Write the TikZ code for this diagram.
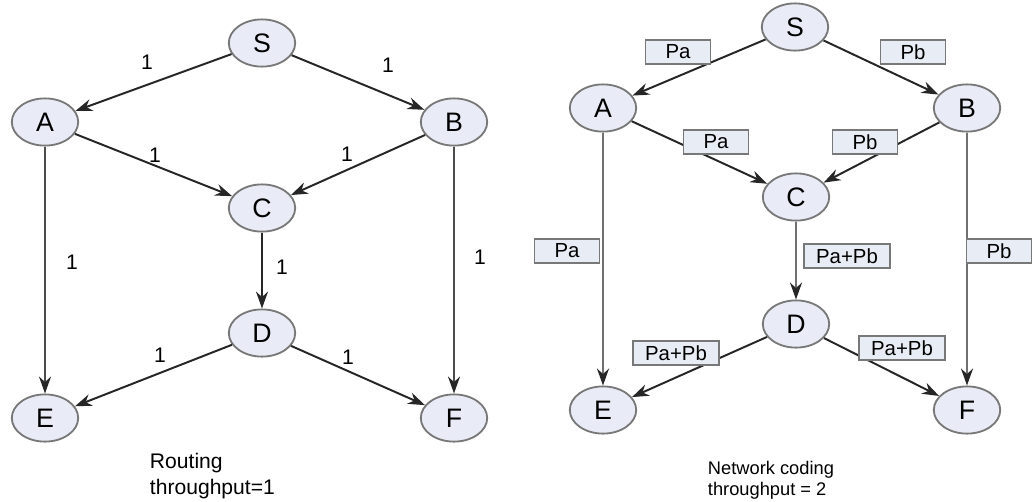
\documentclass[tikz,border=0pt]{standalone}
\usepackage{fontspec}
\setmainfont{Liberation Sans}
\usetikzlibrary{shapes,arrows.meta,positioning}
\definecolor{vertexfill}{RGB}{233,236,246}
\definecolor{vertexline}{RGB}{120,120,120}
\definecolor{boxfill}{RGB}{232,236,244}
\definecolor{edgegray}{RGB}{112,112,112}

\begin{document}
\begin{tikzpicture}[x=0.025cm, y=-0.025cm,
    vertex/.style={ellipse, draw=vertexline, fill=vertexfill, line width=1.3pt, minimum width=1.66cm, minimum height=1.18cm, inner sep=0pt, font=\fontsize{19pt}{22pt}\selectfont},
    flow/.style={-{Stealth[length=12pt,width=8.5pt,color=black!85]}, draw=black!85, line width=1.4pt},
    vflow/.style={flow, draw=black!70, line width=1.6pt},
    gflow/.style={flow, draw=edgegray, line width=2pt},
    rate/.style={font=\fontsize{15pt}{17pt}\selectfont},
    packet/.style={rectangle, draw=vertexline, fill=boxfill, line width=1.1pt, minimum width=1.62cm, minimum height=0.6cm, inner sep=2pt, font=\fontsize{14.5pt}{16pt}\selectfont},
    mixed/.style={packet, minimum width=2.15cm}]

    \useasboundingbox (0,0) rectangle (1032,501);

    % routing
    \node[vertex] (rs) at (262,43) {S};
    \node[vertex] (ra) at (45,122) {A};
    \node[vertex] (rb) at (454,122) {B};
    \node[vertex] (rc) at (262,208) {C};
    \node[vertex] (rd) at (262,333) {D};
    \node[vertex] (re) at (45,418) {E};
    \node[vertex] (rf) at (454,418) {F};

    \draw[flow] (rs) -- (ra);
    \draw[flow] (rs) -- (rb);
    \draw[flow] (ra) -- (rc);
    \draw[flow] (rb) -- (rc);
    \draw[flow] (rc) -- (rd);
    \draw[flow] (rd) -- (re);
    \draw[flow] (rd) -- (rf);
    \draw[vflow] (ra) -- (re);
    \draw[vflow] (rb) -- (rf);

    \node[rate] (rsa) at (147,62) {1};
    \node[rate] (rsb) at (388,65) {1};
    \node[rate] (rac) at (155,155) {1};
    \node[rate] (rbc) at (347,154) {1};
    \node[rate] (rae) at (72,262) {1};
    \node[rate] (rcd) at (282,267) {1};
    \node[rate] (rbf) at (480,257) {1};
    \node[rate] (rde) at (160,355) {1};
    \node[rate] (rdf) at (348,357) {1};

    \node[anchor=west, align=left, font=\fontsize{15pt}{18pt}\selectfont] (rcap) at (145,476) {Routing\\throughput=1};

    % network coding
    \node[vertex] (ns) at (795,27) {S};
    \node[vertex] (na) at (603,108) {A};
    \node[vertex] (nb) at (967,108) {B};
    \node[vertex] (nc) at (796,197) {C};
    \node[vertex] (nd) at (796,324) {D};
    \node[vertex] (ne) at (603,410) {E};
    \node[vertex] (nf) at (967,410) {F};

    \draw[flow] (ns) -- (na);
    \draw[flow] (ns) -- (nb);
    \draw[flow] (na) -- (nc);
    \draw[flow] (nb) -- (nc);
    \draw[gflow] (nc) -- (nd);
    \draw[flow] (nd) -- (ne);
    \draw[flow] (nd) -- (nf);
    \draw[gflow] (na) -- (ne);
    \draw[gflow] (nb) -- (nf);

    \node[packet] (nsa) at (678,52) {Pa};
    \node[packet] (nsb) at (913,52) {Pb};
    \node[packet] (nac) at (716,142) {Pa};
    \node[packet] (nbc) at (865,142) {Pb};
    \node[packet] (nae) at (567,251) {Pa};
    \node[mixed] (ncd) at (847,256) {Pa+Pb};
    \node[packet] (nbf) at (999,251) {Pb};
    \node[mixed] (nde) at (676,353) {Pa+Pb};
    \node[mixed] (ndf) at (902,348) {Pa+Pb};

    \node[anchor=west, align=left, font=\fontsize{13pt}{15pt}\selectfont] (ncap) at (703,480) {Network coding\\throughput = 2};
\end{tikzpicture}
\end{document}
